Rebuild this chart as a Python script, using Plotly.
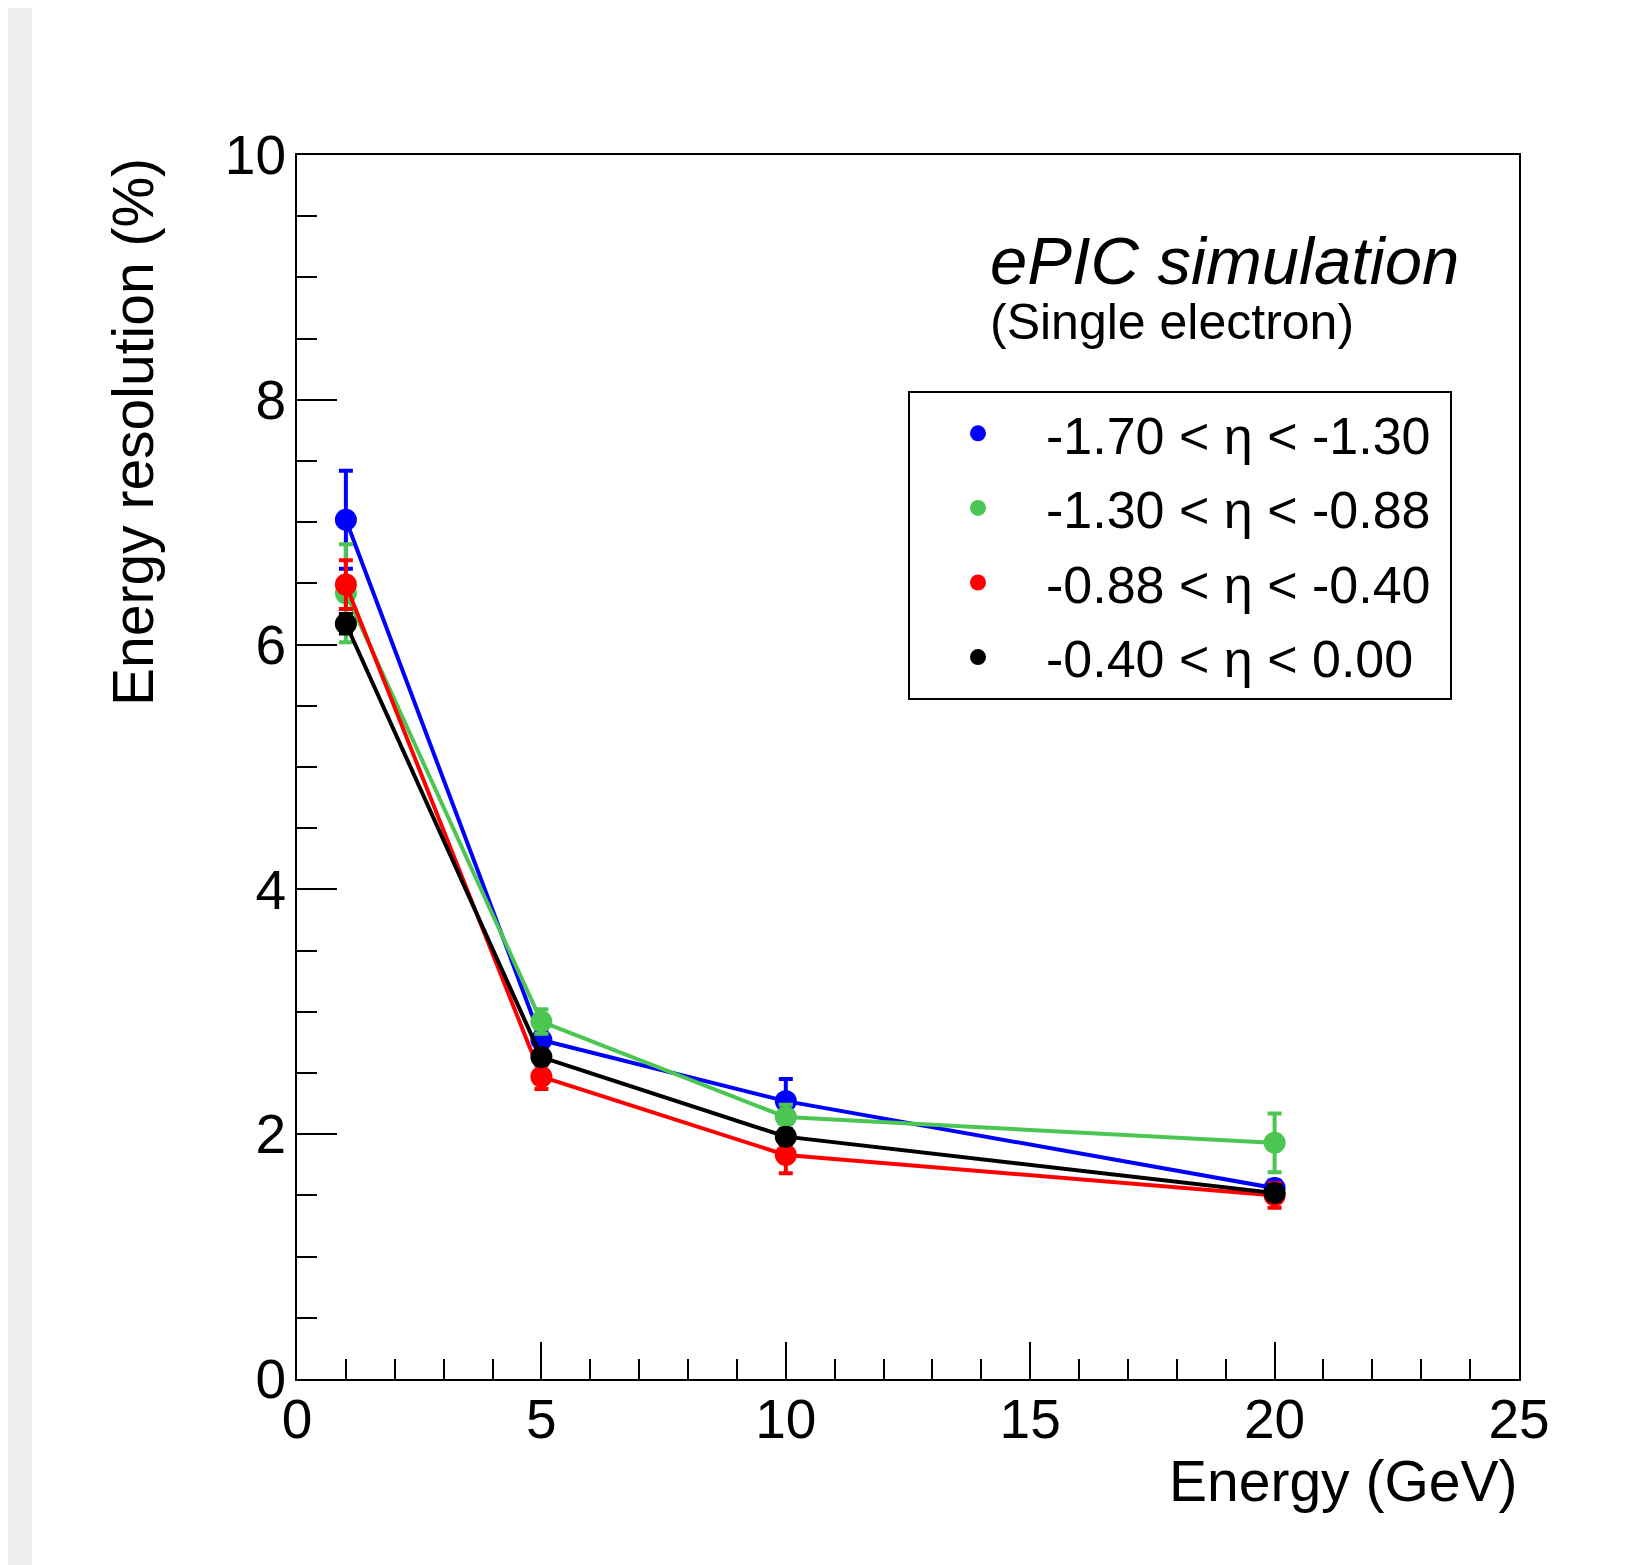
import plotly.graph_objects as go

# Energy resolution vs beam energy, single electrons, four eta bins
energy = [1, 5, 10, 20]

eta_bins = ["-1.70 < η < -1.30", "-1.30 < η < -0.88", "-0.88 < η < -0.40", "-0.40 < η < 0.00"]
colors = ["#0000ff", "#4cc552", "#ff0000", "#000000"]

res_blue = [7.02, 2.77, 2.27, 1.56]
err_blue = [0.40, 0.08, 0.18, 0.06]
res_green = [6.42, 2.92, 2.14, 1.93]
err_green = [0.40, 0.10, 0.10, 0.24]
res_red = [6.49, 2.47, 1.83, 1.50]
err_red = [0.20, 0.10, 0.15, 0.10]
res_black = [6.17, 2.63, 1.98, 1.52]
err_black = [0.08, 0.06, 0.06, 0.06]

series = [(res_blue, err_blue), (res_green, err_green), (res_red, err_red), (res_black, err_black)]

FONT = "Liberation Sans, Arial, Helvetica, sans-serif"

# page pixel geometry of the frame; the html body adds an 8px margin
OFF = 8
PAGE_W, PAGE_H = 1643, 1565
W, H = PAGE_W - OFF, PAGE_H - OFF
L, R, T, B = 297 - OFF, 1519 - OFF, 155 - OFF, 1379 - OFF


def px(x):  # page x -> paper
    return (x - OFF - L) / (R - L)


def py(y):  # page y -> paper
    return (B - (y - OFF)) / (B - T)


fig = go.Figure()
for i, ((vals, errs), name, col) in enumerate(zip(series, eta_bins, colors)):
    fig.add_trace(go.Scatter(x=energy, y=vals, mode="lines", line=dict(color=col, width=4),
                             legendgroup=str(i), showlegend=False, hoverinfo="skip"))
    fig.add_trace(go.Scatter(x=energy, y=vals, mode="markers", name=name + "\u00a0",
                             legendgroup=str(i), marker=dict(color=col, size=22),
                             error_y=dict(type="data", array=errs, color=col, thickness=4, width=7)))

axis_common = dict(showline=True, linecolor="black", linewidth=2, mirror=True, showgrid=False,
                   zeroline=False, ticks="inside", tickcolor="black", tickwidth=2,
                   tickfont=dict(family=FONT, size=55, color="black"))

fig.update_xaxes(range=[0, 25], tickvals=[0, 5, 10, 15, 20, 25], ticklen=37,
                 minor=dict(dtick=1, ticks="inside", ticklen=20, tickwidth=2, tickcolor="black"),
                 ticklabelstandoff=-9, **axis_common)
fig.update_yaxes(range=[0, 10], tickvals=[0, 2, 4, 6, 8, 10], ticklen=40,
                 minor=dict(dtick=0.5, ticks="inside", ticklen=20, tickwidth=2, tickcolor="black"),
                 ticklabelstandoff=-2, **axis_common)

annotations = [
    dict(text="Energy resolution (%)", x=px(133), y=py(156), xref="paper", yref="paper",
         textangle=-90, xanchor="center", yanchor="top", showarrow=False,
         font=dict(family=FONT, size=57, color="black")),
    dict(text="Energy (GeV)", x=px(1519), y=py(1481), xref="paper", yref="paper",
         xanchor="right", yanchor="middle", showarrow=False,
         font=dict(family=FONT, size=57, color="black")),
    dict(text="<i>ePIC simulation</i>", x=px(988), y=py(260), xref="paper", yref="paper",
         xanchor="left", yanchor="middle", showarrow=False,
         font=dict(family=FONT, size=67, color="black")),
    dict(text="(Single electron)", x=px(988), y=py(322), xref="paper", yref="paper",
         xanchor="left", yanchor="middle", showarrow=False,
         font=dict(family=FONT, size=50, color="black")),
]

# light grey window edge on the left
shapes = [dict(type="rect", xref="paper", yref="paper", x0=px(OFF), x1=px(32),
               y0=py(-20), y1=py(PAGE_H + 20), fillcolor="#efefef", line=dict(width=0),
               layer="below")]

fig.update_layout(
    width=W, height=H,
    margin=dict(l=L, r=W - R, t=T, b=H - B),
    paper_bgcolor="white", plot_bgcolor="white",
    font=dict(family=FONT, color="black"),
    annotations=annotations, shapes=shapes,
    legend=dict(x=px(908), y=py(391), xanchor="left", yanchor="top",
                bgcolor="white", bordercolor="black", borderwidth=2,
                font=dict(family=FONT, size=52, color="black"),
                itemwidth=126, tracegroupgap=4, itemsizing="trace"),
    showlegend=True,
)

fig.write_html("out.html")
